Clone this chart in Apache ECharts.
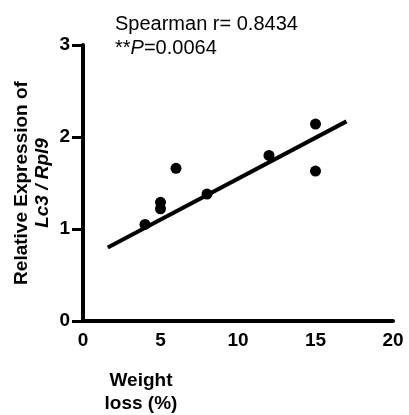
<!DOCTYPE html>
<html>
<head>
<meta charset="utf-8">
<script src="https://cdn.jsdelivr.net/npm/echarts@6/dist/echarts.min.js"></script>
<style>
  html, body { margin: 0; padding: 0; background: #fff; }
  #chart { width: 409px; height: 415px; }
</style>
</head>
<body>
<div id="chart"></div>
<script>
// weight loss (%) and Lc3/Rpl9 expression
var weightLoss = [4, 5, 5, 6, 8, 12, 15, 15];
var expression = [1.05, 1.29, 1.22, 1.66, 1.38, 1.80, 2.14, 1.63];
// fitted line end points
var fitX = [1.6, 17];
var fitY = [0.80, 2.17];
var xTicks = [0, 5, 10, 15, 20];
var yTicks = [0, 1, 2, 3];

var font = '"Liberation Sans", Arial, sans-serif';
var chart = echarts.init(document.getElementById('chart'));

var options = {
    animation: false,
    grid: { left: 83, right: 16, top: 45, bottom: 94, containLabel: false, outerBoundsMode: 'none' },
    xAxis: {
        type: 'value',
        min: xTicks[0],
        max: xTicks[xTicks.length - 1],
        interval: 5,
        axisLine: { onZero: false, lineStyle: { color: '#000', width: 4 } },
        axisTick: { show: false },
        splitLine: { show: false },
        axisLabel: { color: '#000', fontWeight: 'bold', fontSize: 19, fontFamily: font, margin: 10 }
    },
    yAxis: {
        type: 'value',
        min: yTicks[0],
        max: yTicks[yTicks.length - 1],
        interval: 1,
        axisLine: { onZero: false, lineStyle: { color: '#000', width: 4 } },
        axisTick: { show: true, length: 11, lineStyle: { color: '#000', width: 3 } },
        splitLine: { show: false },
        axisLabel: { color: '#000', fontWeight: 'bold', fontSize: 19, fontFamily: font, margin: 13 },
        name: 'Relative Expression of\n{i|Lc3 / Rpl9}',
        nameLocation: 'middle',
        nameRotate: 90,
        nameGap: 30,
        nameMoveOverlap: false,
        nameTextStyle: {
            color: '#000', fontWeight: 'bold', fontSize: 19, fontFamily: font, lineHeight: 21,
            rich: {
                i: { fontStyle: 'italic', fontWeight: 'bold', fontSize: 19, lineHeight: 21, fontFamily: font, color: '#000' }
            }
        }
    },
    graphic: [{
        type: 'text',
        left: 115,
        top: 12,
        style: {
            text: 'Spearman r= 0.8434\n**{i|P}=0.0064',
            fill: '#000',
            font: '20px ' + font,
            lineHeight: 24,
            rich: {
                i: { fontStyle: 'italic', fontSize: 20, lineHeight: 24, fontFamily: font, fill: '#000' }
            }
        }
    }, {
        type: 'text',
        x: 141,
        y: 369,
        style: {
            text: 'Weight\nloss (%)',
            fill: '#000',
            align: 'center',
            verticalAlign: 'top',
            font: 'bold 19px ' + font,
            lineHeight: 23
        }
    }],
    series: [{
        type: 'line',
        data: fitX.map(function (x, i) { return [x, fitY[i]]; }),
        symbol: 'none',
        lineStyle: { color: '#000', width: 4 },
        z: 2
    }, {
        type: 'scatter',
        data: weightLoss.map(function (x, i) { return [x, expression[i]]; }),
        symbol: 'circle',
        symbolSize: 11,
        itemStyle: { color: '#000', opacity: 1 },
        z: 3
    }]
};
chart.setOption(options);
</script>
</body>
</html>
